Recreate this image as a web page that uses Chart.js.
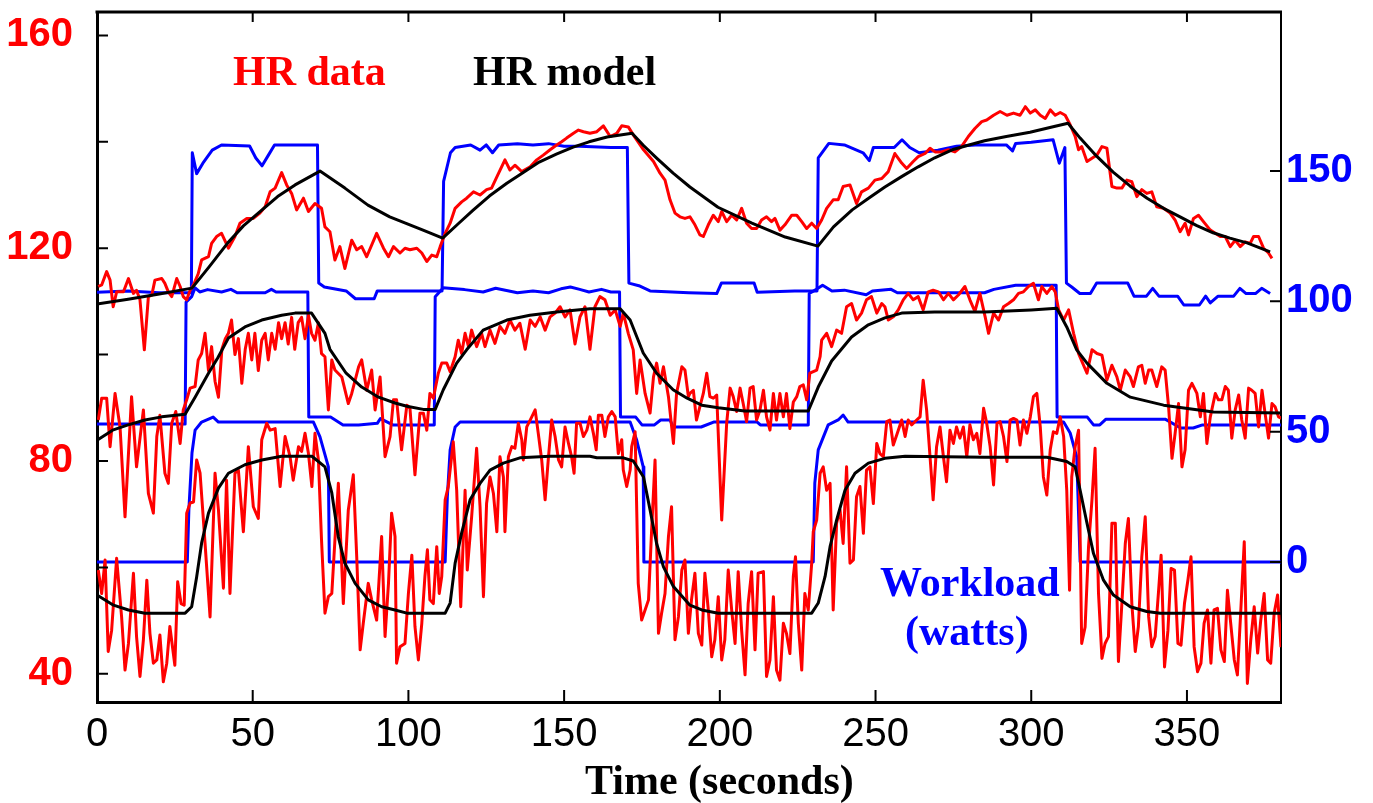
<!DOCTYPE html>
<html>
<head>
<meta charset="utf-8">
<title>HR data vs HR model</title>
<script src="https://cdn.jsdelivr.net/npm/chart.js@4.4.1/dist/chart.umd.min.js"></script>
<style>
  html, body { margin: 0; padding: 0; background: #fff; }
  #wrap { width: 1373px; height: 803px; }
</style>
</head>
<body>
<div id="wrap"><canvas id="hrChart" width="1373" height="803"></canvas></div>
<script>
// tick values
const timeTicks = [0, 50, 100, 150, 200, 250, 300, 350];
const hrTicks = [40, 60, 80, 100, 120, 140, 160];
const hrLabelled = [40, 80, 120, 160];
const wattTicks = [0, 50, 100, 150];

// [time (s), bpm] - top, middle and bottom runs
const hrDataTop = [[0.4,112.8],[1.5,113.1],[3.1,115.6],[4.2,114],[5.2,109],[6.3,111.8],[7.4,111.8],[8.5,111.8],[10.1,114.3],[11.7,111.5],[12.7,112.1],[13.8,110.3],[15.2,100.9],[16.5,110.9],[17.6,111.2],[18.6,114],[20.8,114.3],[21.8,113.4],[22.9,111.8],[24.0,110.9],[25.6,114.3],[26.7,112.8],[27.7,110.9],[28.8,110.3],[29.9,112.1],[31.0,113.1],[32.5,115.2],[33.6,117.8],[35.8,118.4],[36.8,120.9],[38.4,122.2],[40.0,122.8],[42.2,120],[44.3,122.2],[45.9,124.7],[48.1,125.6],[50.2,125.6],[52.3,126.6],[54.0,127.8],[55.6,130.6],[57.2,131.3],[59.3,134.2],[60.9,131.9],[62.5,130.3],[64.1,127.2],[66.3,129.4],[67.9,126.9],[70.0,128.4],[72.1,127.5],[73.2,124],[74.8,123.1],[76.4,117.8],[78.0,120.3],[79.6,116.2],[81.8,121.5],[83.4,119.7],[85.0,120.3],[86.6,118.4],[89.8,122.8],[92.0,120],[93.6,118.4],[95.2,120.3],[97.3,119.1],[98.9,120],[100.5,119.7],[102.7,120],[104.3,119.1],[105.9,117.5],[107.5,118.7],[109.1,118.4],[110.2,120.3],[111.8,122.8],[113.4,124.7],[115.0,127.5],[117.1,128.7],[118.7,129.4],[120.9,130.6],[123.0,130],[125.1,131],[126.7,131.3],[128.4,133.4],[131.0,136.6],[132.6,134.7],[134.2,135.6],[136.4,134.4],[139.1,135.3],[141.2,136.6],[143.3,137.5],[145.5,138.5],[147.6,139.4],[149.2,140],[150.8,140.7],[153.0,141.6],[154.6,142.2],[156.2,141.9],[158.3,141.6],[160.5,141.9],[162.6,143],[164.8,141],[166.9,141.6],[168.5,143],[170.6,142.8],[172.2,141.3],[175.5,138.5],[178.7,136.3],[180.8,134.1],[182.4,132.8],[184.0,129.1],[185.6,126.6],[187.2,125.9],[188.8,125.6],[190.4,125.9],[192.0,124.4],[193.6,122.5],[194.7,122.2],[196.3,124.4],[197.9,126.2],[199.5,125],[200.6,126.9],[202.2,125],[203.8,126.2],[205.4,125.3],[207.0,127.5],[208.6,124.7],[210.2,123.7],[211.8,123.7],[213.4,125.3],[215.0,125.9],[216.6,125],[217.7,125.6],[219.3,123.4],[220.9,124.4],[223.1,126.2],[224.7,126.2],[226.3,125],[227.9,123.7],[229.5,124.7],[231.1,123.7],[232.7,125.3],[234.3,127.5],[236.4,129.1],[238.0,129.1],[239.6,131.6],[241.8,131.9],[243.9,128.4],[245.5,130.6],[247.7,131.3],[249.8,132.8],[252.0,133.1],[254.1,134.4],[256.2,137.8],[258.4,136],[260.0,135],[262.1,136.3],[263.7,137.2],[265.9,137.8],[267.5,138.8],[269.1,138.1],[271.2,138.1],[273.4,138.5],[275.5,138.1],[277.6,139.1],[279.8,141],[281.9,142.5],[284.1,143.8],[285.7,144.1],[287.9,145],[290.0,145.7],[292.2,145],[294.3,145.4],[296.4,145],[298.1,146.6],[299.7,145.4],[301.3,146],[302.9,145],[304.5,144.4],[306.1,146],[307.7,145],[309.3,145.5],[310.9,145],[312.5,143.2],[314.1,141],[315.2,138.5],[316.2,139.1],[317.9,136.3],[319.5,136.9],[321.1,137.5],[322.7,139.1],[324.3,138.8],[325.9,131.6],[327.5,131.3],[329.1,131.3],[330.7,132.8],[332.3,132.5],[333.9,129.7],[335.5,131],[337.1,130.3],[338.7,130.6],[340.3,127.8],[342.5,127.5],[344.6,126.6],[346.2,125.3],[347.8,123.1],[349.4,124.7],[350.5,122.5],[352.1,125.6],[353.7,126.2],[355.3,125],[357.5,123.4],[359.1,122.8],[360.7,122.2],[362.3,122.2],[363.9,120.3],[365.5,121.5],[367.1,120.3],[368.7,121.2],[370.3,120.9],[371.4,122.2],[373.0,122.2],[374.6,120],[376.2,119.1],[377.3,118.1]];

const hrDataMid = [[0.4,87.7],[1.5,91.8],[3.1,91.8],[4.2,82.7],[5.8,92.7],[7.4,86.4],[9.0,69.5],[11.1,92.1],[12.7,78.9],[14.9,89.6],[16.5,73.9],[18.1,70.2],[19.2,84.6],[20.2,88.6],[21.8,77.7],[22.9,75.8],[24.0,87.1],[25.3,89.3],[26.7,83.3],[27.7,89.6],[28.8,91.5],[29.9,93.7],[31.5,94],[32.5,99],[33.6,100.2],[34.7,104],[35.8,97],[36.8,101.5],[37.9,95],[39.0,92],[40.1,101],[41.2,103],[42.2,104],[43.2,106.5],[44.3,100],[45.4,103],[46.5,94.6],[47.6,101],[48.6,104],[49.7,99],[50.7,104],[51.8,97],[52.9,102.7],[54.0,104],[55.0,99],[56.1,104],[57.2,101],[58.3,106],[59.3,103],[60.4,106],[61.4,102],[62.5,107],[63.5,101],[64.6,106],[65.7,107],[66.8,103],[67.9,107.4],[68.9,104],[70.0,102.7],[71.1,106],[72.1,100.2],[73.2,99.6],[74.3,89.6],[75.4,99],[76.4,97.1],[78.6,95.8],[80.7,90.8],[81.8,92.7],[84.0,97.7],[85.0,99],[86.6,93.3],[88.2,97.1],[89.3,89.6],[90.9,95.8],[92.5,80.8],[94.1,84.6],[95.2,91.5],[96.2,91.5],[97.8,82.1],[99.5,90.5],[100.5,89.9],[102.1,77.4],[103.7,89],[104.8,89],[105.9,85.8],[106.9,92.7],[108.0,91.8],[109.6,96.5],[110.7,98.4],[112.3,98.4],[113.4,96.8],[115.0,99.6],[116.0,102.7],[117.1,100.2],[118.2,104],[119.3,101.5],[120.3,104.6],[121.9,101.5],[123.5,104],[124.6,101.5],[126.2,104.6],[127.8,102.1],[129.4,105.3],[131.0,104],[132.6,106.5],[134.2,104.6],[135.8,105.9],[137.5,101],[139.1,106.5],[140.7,105.3],[142.3,107.1],[143.9,104.6],[145.5,107.1],[147.1,107.8],[148.7,109],[150.3,107.1],[151.9,108.4],[153.5,102],[155.1,107.1],[156.7,109],[158.3,101],[159.9,109],[161.5,110.9],[163.1,110.3],[164.8,107.4],[166.4,108.4],[168.0,105.3],[169.0,107.8],[170.6,104],[172.2,100.9],[173.3,92.7],[174.4,99],[176.0,92.7],[177.6,89],[178.7,95.8],[179.7,98.4],[180.8,94.6],[181.9,97.7],[183.5,92.1],[185.1,83.3],[186.1,92.7],[187.8,97.7],[188.8,97.1],[189.9,92.1],[190.4,92.7],[191.5,93.3],[192.5,87.7],[193.6,90.2],[194.7,92.7],[195.8,96.5],[196.8,92.1],[197.9,91.8],[199.0,92.4],[200.6,68.9],[202.2,87.1],[203.3,93.7],[204.3,92.1],[205.4,89.3],[206.5,93.7],[207.5,90.8],[208.6,87.4],[209.7,93.7],[210.7,94],[211.8,87.7],[212.9,89.6],[214.0,93.3],[215.0,88.3],[216.1,85.8],[217.2,92.7],[218.2,87.7],[219.3,92.7],[220.4,88.3],[221.4,92.7],[222.5,86.1],[223.6,91.1],[224.7,92.1],[225.7,94],[226.8,94.3],[227.9,91.5],[228.9,96.5],[230.0,96.8],[231.1,97.1],[232.2,99.6],[232.7,102.7],[234.3,104],[235.9,101.5],[237.5,104.6],[239.1,104],[240.7,109],[242.3,109.6],[243.9,106.5],[245.5,107.8],[247.1,110.3],[248.7,110.9],[250.4,107.8],[252.0,109.6],[253.0,109],[254.1,106.5],[255.7,107.1],[257.3,108.4],[258.9,110.3],[260.5,111.5],[262.1,110.3],[263.7,110.9],[265.3,108.4],[266.9,111.8],[268.5,112.1],[270.2,111.8],[271.8,110.3],[273.4,111.5],[275.0,110.3],[276.6,111.2],[278.7,112.8],[280.3,110.3],[281.9,108.1],[283.5,111.5],[285.2,107.1],[286.3,104],[287.9,107.8],[289.5,106.5],[291.1,109],[292.7,109.6],[294.3,110.3],[295.9,111.5],[297.5,111.8],[299.1,112.8],[300.7,113.4],[302.3,110.3],[303.4,112.8],[305.0,111.5],[306.6,112.8],[307.7,111.8],[308.8,108.4],[310.4,106.5],[312.0,108.4],[313.6,104],[315.2,100.2],[317.9,96.5],[319.5,100.9],[321.1,100.2],[322.7,99.9],[324.3,95.2],[325.9,98],[327.5,95.8],[328.6,93.3],[330.2,97.1],[331.8,95.8],[332.8,94],[334.4,97.7],[335.5,98],[336.6,94.6],[337.7,97.1],[338.7,97.1],[340.3,94],[341.9,97.7],[343.0,97.1],[344.1,90.2],[345.2,80.5],[346.2,85.2],[347.3,90.8],[348.4,78.9],[349.4,82.1],[350.5,93.3],[351.6,94.6],[353.2,92.7],[354.3,88.3],[355.3,92.7],[356.4,83.3],[357.5,88.3],[359.1,92.7],[360.1,91.5],[361.2,91.5],[362.3,94],[363.3,93.3],[364.4,84.3],[365.5,89.6],[366.6,92.4],[367.6,87.7],[368.7,84.3],[369.8,93.7],[370.8,93.3],[371.9,92.7],[373.0,86.4],[374.1,93.3],[375.1,88.9],[376.2,84.3],[377.3,90.8],[378.3,90.2],[379.4,88.3],[380.5,88]];

const hrDataLow = [[0.4,59.5],[1.5,55.1],[2.6,61.4],[3.6,44.2],[4.7,48.2],[6.3,61.7],[7.9,50.7],[9.0,40.7],[10.1,45.7],[11.7,58.9],[12.7,47],[13.8,39.5],[14.9,46.4],[16.0,57.6],[17.0,47.6],[18.1,42],[19.2,42.6],[20.2,47.3],[21.3,38.5],[22.4,42],[23.4,48.9],[25.0,41.6],[25.9,57.3],[27.0,53.2],[28.0,52.9],[28.8,70.2],[29.9,72.1],[31.0,72.3],[32.0,80.2],[33.1,77.7],[34.7,64.5],[36.3,50.7],[37.9,77.7],[39.0,70.8],[40.6,56.1],[41.6,76.4],[42.7,55.1],[44.3,77.7],[45.4,78.3],[47.0,66.7],[48.6,82.7],[50.2,71.4],[51.8,69.2],[52.9,84],[54.5,87.1],[55.6,85.8],[57.2,86.1],[58.8,75.2],[60.4,84.6],[62.0,80.8],[63.0,76.4],[64.7,82.7],[65.7,81.8],[66.8,85.2],[67.9,81.4],[69.0,75.2],[70.0,85.2],[71.1,80.2],[72.1,65.1],[73.2,51.4],[74.3,54.5],[75.4,55.1],[76.4,65.1],[77.5,75.8],[79.1,53.2],[80.7,70.8],[82.3,77.4],[83.4,62],[84.5,44.5],[85.5,49.5],[87.1,57],[88.2,53.9],[89.8,50.1],[91.4,65.8],[92.5,47],[93.6,57],[94.6,70.2],[95.7,65.8],[96.2,42],[97.3,45.1],[98.9,45.7],[100.0,55.1],[101.1,62.3],[102.1,48.9],[103.2,42.6],[104.3,49.5],[105.3,58.3],[106.1,63.3],[106.9,53.9],[108.0,53.2],[109.1,63.9],[109.9,55.1],[110.7,58.3],[111.8,72.7],[112.8,75.2],[114.4,83.6],[115.5,74.5],[116.8,52.6],[118.2,74.5],[118.9,59.5],[120.3,69.5],[121.9,82.4],[123.0,71.4],[124.1,54.5],[125.1,72],[126.2,77],[127.3,73.9],[128.4,66.7],[129.4,80.8],[130.5,77],[131.0,66.7],[132.1,80.8],[133.2,82.7],[134.2,82.4],[135.3,87.1],[136.4,84],[136.9,80.2],[138.0,86.4],[139.1,87.7],[140.7,89.6],[141.7,85.2],[142.8,80.2],[143.9,72.7],[144.9,80.2],[146.0,87.7],[147.1,84.6],[148.2,80.2],[149.2,78.9],[150.3,86.4],[151.4,83.3],[152.4,80.8],[153.2,77.7],[154.0,87.1],[155.1,87.1],[156.2,84.6],[157.3,85.8],[158.3,88.3],[159.4,85.2],[160.3,82.1],[161.0,88.6],[162.1,88.6],[163.1,84.6],[164.2,88.3],[165.3,89.3],[166.4,88.3],[167.4,81.4],[168.5,84],[169.0,78.3],[170.1,75.2],[171.2,78.3],[171.7,82.7],[172.8,85.5],[173.8,57],[174.9,50.1],[176.0,52],[177.1,53.9],[178.1,67],[179.2,80.2],[180.3,47.6],[181.3,51.4],[182.4,55.1],[183.5,65.8],[184.5,71.4],[185.6,46.4],[186.7,50.7],[187.8,59.5],[188.8,61.4],[189.9,47.6],[190.9,53.9],[192.0,58.9],[193.1,47.6],[194.2,45.4],[195.2,58.9],[196.3,52],[197.4,43.2],[198.4,46.4],[199.5,54.5],[200.6,42.6],[201.6,46.4],[202.7,59.5],[203.8,52],[204.9,45.7],[205.9,59.2],[207.0,48.2],[208.1,39.8],[209.1,53.2],[210.2,59.2],[211.3,44.5],[212.3,58.9],[214.0,59.2],[215.0,39.5],[216.1,42.6],[217.2,54.5],[218.2,40.7],[219.3,38.8],[220.4,49.5],[221.4,47.6],[222.5,43.8],[223.6,58.3],[224.3,62],[225.2,49.5],[226.3,40.7],[227.3,55.1],[228.4,52],[229.5,60.8],[230.0,66.7],[231.1,68.9],[232.2,77.7],[233.2,78.9],[234.3,74.5],[235.4,75.8],[236.4,52],[237.5,68.3],[238.6,70.8],[239.6,64.5],[240.7,78.9],[241.8,60.8],[242.9,61.4],[243.9,73.3],[245.0,75.2],[246.1,66.4],[247.1,78.3],[248.2,78.9],[249.3,72],[250.4,83.3],[251.4,81.4],[252.5,80.8],[253.6,87.4],[254.6,87.7],[255.7,83],[256.8,84.9],[258.4,87.7],[259.5,84.6],[260.5,87.7],[261.6,86.8],[263.2,87.7],[264.3,88.3],[265.3,95.2],[266.4,89.6],[267.5,80.8],[268.5,72.7],[269.6,82.7],[270.7,86.4],[271.8,80.8],[272.8,76.1],[273.9,85.8],[275.0,83.3],[276.0,86.4],[277.1,84.3],[278.2,86.4],[279.3,80.8],[280.3,86.8],[281.4,84],[282.5,85.2],[283.5,81.4],[284.7,89.9],[285.7,87.1],[286.8,82.7],[287.9,75.5],[289.0,87.1],[290.0,87.4],[291.1,84.6],[292.2,79.9],[293.2,87.7],[294.3,88],[295.4,87.7],[296.4,83],[297.5,87.7],[298.6,85.2],[299.7,88.3],[300.7,92.1],[301.8,92.7],[302.9,86.4],[303.9,77],[305.0,73.6],[306.1,82.1],[307.1,85.5],[308.2,85.2],[309.3,88.3],[310.4,84.6],[311.4,74.5],[312.3,55.7],[313.0,77],[314.1,82.7],[315.2,85.8],[316.2,45.7],[317.3,48.8],[318.4,63.9],[319.5,72.7],[320.5,82.4],[321.6,55.1],[322.7,42.9],[323.7,45.7],[324.8,47],[325.9,68.3],[327.0,68.3],[328.0,42.3],[329.1,53.2],[330.2,64.5],[331.2,69.2],[332.3,53.2],[333.4,44.2],[334.4,48.9],[335.5,62],[336.6,69.5],[337.7,50.7],[338.7,45.1],[339.8,47],[340.9,55.7],[341.7,62.3],[342.8,41.3],[343.9,48.2],[344.9,59.8],[346.0,59.5],[347.1,45.7],[348.1,45.4],[349.2,53.2],[350.3,57.6],[351.3,62],[352.3,45.1],[353.4,40.4],[354.5,42],[355.5,49.5],[356.6,52],[357.7,42],[358.7,52],[359.8,52.3],[360.9,44.5],[362.0,42.3],[363.0,55.7],[364.1,49.2],[365.2,42.6],[366.2,39.8],[367.3,52],[368.4,64.8],[369.4,38.2],[370.5,46.4],[371.6,52.6],[372.7,43.9],[373.7,50.1],[374.8,55.1],[375.9,42.6],[376.9,42],[378.0,51.4],[379.1,54.8],[380.2,45]];

// HR model [time (s), bpm]
const hrModelTop = [[0,109.5],[10,110.4],[20,111.4],[30.5,112.5],[36,116.5],[42,121],[47,124.2],[53,127.2],[58,129.7],[63.6,131.9],[71.6,134.5],[79.6,131.3],[87,128.1],[94,125.9],[104.7,123.4],[111,121.9],[116,124.6],[120.7,127.1],[126,129.8],[131.6,132.2],[137,134.3],[142,136.2],[147.5,137.7],[152.9,139],[158,140],[163.8,140.9],[171.8,141.6],[175.5,139.3],[179.8,136.9],[185,134.1],[190.4,131.5],[199.4,127.7],[210.3,124.7],[221,122.1],[231.5,120.4],[236.5,124],[242.5,127.2],[248,129.5],[253,131.5],[258.5,133.5],[263.7,135.3],[269,137],[274.6,138.5],[280,139.4],[285,140.2],[292,141],[299.6,141.8],[306,142.7],[311.8,143.5],[315.7,140.7],[321,137.3],[326.3,134.3],[331.7,131.7],[337.2,129.4],[342.5,127.5],[347.8,125.9],[353,124.3],[358.4,122.9],[363.8,121.9],[369.3,121],[376.7,119.3]];

const hrModelMid = [[0,83.9],[5,85.8],[10,86.8],[15.4,87.7],[20.8,88.3],[28.3,88.8],[31.5,92],[35.8,96.5],[38.8,99.4],[42.2,103.1],[47.5,105.2],[52.9,106.5],[59.3,107.4],[63.6,107.8],[68.9,107.8],[73.2,104],[74.8,101],[80,96.5],[85,93.9],[90.4,92],[95.7,90.9],[99.5,90.3],[104.8,89.7],[108.6,89.7],[111.2,93.4],[115.5,98.4],[118.7,100.9],[124,104.6],[131.6,106.5],[139,107.4],[147.6,108],[158.3,108.6],[168,108.6],[171.2,106.5],[175.4,100.3],[179.7,96.5],[185,93.4],[189.5,91.8],[194.2,90.5],[199.5,90],[208,89.4],[228.4,89.4],[231.6,93.9],[235.9,98.8],[242.3,103.3],[247.7,105.6],[253,106.9],[258.4,107.8],[269,108],[285,108],[300,108.4],[308.2,108.7],[311.4,105.2],[314.6,100.9],[317.9,98.4],[324.3,94.6],[331.8,92],[342.5,90.5],[358.5,89.2],[380.5,89]];

const hrModelLow = [[0,54.8],[5.3,52.9],[10.1,52],[15.4,51.4],[28.3,51.4],[30.4,52.6],[32,58.2],[33.6,64.6],[35.8,70.2],[39,74.9],[42.2,77.7],[47.5,79.3],[52.9,80.2],[59.3,80.9],[69,80.9],[73.2,78.9],[75.4,74],[77.5,65.7],[79.6,60.8],[82.9,57],[87.1,53.9],[91.4,52.6],[95.7,52],[99.5,51.4],[111.8,51.4],[113.4,53.3],[115,60.8],[117.1,66.5],[119.8,72.7],[123,75.8],[126.2,78.3],[130.5,79.6],[135.8,80.6],[145.5,80.9],[158.3,80.9],[160.5,80.6],[169,80.6],[172.2,80],[175.5,77],[177.6,70.8],[179.7,64.5],[181.9,60.1],[185.1,56.4],[190.4,52.9],[194.2,52],[199.5,51.4],[229.5,51.4],[231.6,53.3],[233.8,58.3],[235.4,63.9],[237.5,68.9],[240.2,74.5],[243.4,77.7],[247.7,79.6],[253,80.5],[259.5,80.9],[285,80.7],[305,80.7],[311.4,79.9],[314.1,78.9],[315.7,74.5],[317.9,68.3],[320,62.6],[323.2,57.6],[326.4,54.8],[331.8,52.6],[337.1,51.7],[341.4,51.4],[380.5,51.4]];

// workload [time (s), watts] on the right axis
const workLow = [[0,0],[29,0],[29.5,20],[30.5,41.8],[31.5,50.6],[33.6,53.7],[37.3,55.6],[39,53.7],[69.5,53.7],[71.6,48],[74.3,36.5],[74.6,0],[111.8,0],[112.5,25],[113.4,43],[115,51.8],[116.6,53.7],[171.2,53.7],[173.3,46.8],[175.4,36.5],[175.6,0],[230,0],[230.5,30.3],[231.6,43],[234.8,52.6],[238,54.5],[239.6,56.4],[241.2,53.7],[310.4,53.7],[312.5,49.5],[314.6,40.3],[315.7,0],[380.5,0]];

const workMid = [[0,52.9],[28.3,52.9],[28.6,99.7],[30.4,101.8],[31.5,105.2],[33,103.6],[35.5,104.5],[40,103.6],[43,104.6],[45,103.3],[54,103.3],[56,104.6],[57.5,103.6],[67.7,103.6],[68,55.6],[75,55.6],[79,52.6],[84,52.6],[90,53.2],[91,55],[95,52.6],[108.3,52.6],[108.6,101.8],[111.2,105.2],[113,105],[118,104.5],[124,103.6],[128,105],[135,103.3],[140,104],[145,103.3],[149,104.8],[152,105.5],[155,104.6],[158,103.6],[162,104.6],[165,103.6],[167.8,103.6],[168.1,55.6],[173,55.6],[175,52.6],[179,52.6],[181,54.5],[184,54.5],[185,51.8],[194,51.8],[198,53.7],[212,53.7],[213,52.6],[228.4,52.6],[228.7,103],[231,104.6],[233,106.2],[236,104],[240,104.3],[247,102.5],[249,104],[255,104.6],[257,103.3],[285,103.3],[288,104.6],[295,106.2],[308,106.2],[308.3,55.6],[318,55.6],[320,52.6],[322,52.6],[324,54.8],[343,54.8],[348,51.4],[352,51.4],[355,52.6],[380.5,52.6]];

const workTop = [[0,103.5],[10,104],[20,103.3],[30.3,103.3],[30.6,157],[32,149],[34,153],[37,158],[40,160],[49,159.6],[51,155],[53,152],[55,156],[57,160],[70.8,160],[71.2,107],[73,105.5],[80,104],[83,101],[89,101],[90,104],[110.8,104],[111.3,146],[113.5,157],[115,159],[120,160],[123,158],[125,160],[127,157],[129,160],[135,160.5],[140,160],[145,160.5],[150,159.5],[155,159.5],[165,159],[170.3,159],[170.8,107],[174,106],[177.6,104],[190,103.3],[199,103],[200.5,107],[211,107],[212,103.5],[224,104],[231.2,104],[231.6,155],[235,160.6],[240,160],[246,157],[248,154],[249.3,159],[256,159],[258.5,162],[261,159],[264,157],[270,158],[276,159.5],[282,160],[292,160],[294,157.7],[295,160.6],[300,161],[307,162],[309,153],[310.8,159],[311.3,107],[313,105.5],[315.6,103],[319,103],[321,107],[331,107],[333,102],[337,102],[339,105],[341,102],[347,102],[349,98.6],[354,98.6],[356,102],[357.5,99.4],[360,102],[365,102],[367,105],[369,103],[372,103],[374,105],[376.7,103]];

const RED = '#ff0000';
const BLUE = '#0000ff';
const BLACK = '#000000';

function toXY(pts) {
  return pts.map(([t, v]) => ({ x: t, y: v }));
}

function series(label, pts, color, axis, order) {
  return {
    label,
    data: toXY(pts),
    borderColor: color,
    backgroundColor: color,
    borderWidth: 3,
    pointRadius: 0,
    tension: 0,
    borderJoinStyle: 'round',
    yAxisID: axis,
    order
  };
}

// frame, inward ticks and the free text
const framePlugin = {
  id: 'frame',
  afterDatasetsDraw(chart) {
    const { ctx, chartArea: a, scales } = chart;
    ctx.save();
    ctx.strokeStyle = BLACK;
    ctx.lineWidth = 3;
    ctx.beginPath();
    ctx.moveTo(a.left - 1.5, a.top);
    ctx.lineTo(a.right + 1, a.top);
    ctx.stroke();
    ctx.lineWidth = 2;
    ctx.beginPath();
    hrTicks.forEach(v => {
      const y = scales.yHR.getPixelForValue(v);
      ctx.moveTo(a.left, y); ctx.lineTo(a.left + 11, y);
    });
    wattTicks.forEach(v => {
      const y = scales.yW.getPixelForValue(v);
      ctx.moveTo(a.right - 11, y); ctx.lineTo(a.right, y);
    });
    timeTicks.forEach(v => {
      const x = scales.x.getPixelForValue(v);
      ctx.moveTo(x, a.bottom); ctx.lineTo(x, a.bottom - 12);
      if (v > 0) { ctx.moveTo(x, a.top); ctx.lineTo(x, a.top + 10); }
    });
    ctx.stroke();
    ctx.restore();
  },
  afterDraw(chart) {
    const ctx = chart.ctx;
    ctx.save();
    ctx.font = 'bold 42px "Liberation Serif", "Times New Roman", serif';
    ctx.textBaseline = 'alphabetic';
    ctx.textAlign = 'left';
    ctx.fillStyle = RED;
    ctx.fillText('HR data', 233, 85);
    ctx.fillStyle = BLACK;
    ctx.fillText('HR model', 473, 85);
    ctx.fillText('Time (seconds)', 585, 794);
    ctx.fillStyle = BLUE;
    ctx.fillText('Workload', 880, 596);
    ctx.fillText('(watts)', 905, 645);
    ctx.restore();
  }
};

new Chart(document.getElementById('hrChart'), {
  type: 'line',
  data: {
    datasets: [
      series('HR model', hrModelTop, BLACK, 'yHR', 1),
      series('HR model', hrModelMid, BLACK, 'yHR', 1),
      series('HR model', hrModelLow, BLACK, 'yHR', 1),
      series('HR data', hrDataTop, RED, 'yHR', 2),
      series('HR data', hrDataMid, RED, 'yHR', 2),
      series('HR data', hrDataLow, RED, 'yHR', 2),
      series('Workload', workTop, BLUE, 'yW', 3),
      series('Workload', workMid, BLUE, 'yW', 3),
      series('Workload', workLow, BLUE, 'yW', 3)
    ]
  },
  options: {
    responsive: false,
    animation: false,
    devicePixelRatio: 1,
    layout: { padding: { top: 12, left: 0, right: 0, bottom: 0 } },
    plugins: { legend: { display: false }, tooltip: { enabled: false } },
    scales: {
      x: {
        type: 'linear',
        position: 'bottom',
        min: 0,
        max: 380.2,
        afterBuildTicks: s => { s.ticks = timeTicks.map(v => ({ value: v })); },
        afterFit: s => { s.height = 101; s.paddingLeft = 0; s.paddingRight = 0; },
        grid: { display: false, drawTicks: false },
        border: { display: true, color: BLACK, width: 3 },
        ticks: {
          autoSkip: false,
          maxRotation: 0,
          padding: 9,
          color: BLACK,
          font: { family: 'Liberation Sans', size: 40 }
        }
      },
      yHR: {
        type: 'linear',
        position: 'left',
        min: 34.7,
        max: 164.4,
        afterBuildTicks: s => { s.ticks = hrTicks.map(v => ({ value: v })); },
        afterFit: s => { s.width = 97; s.paddingTop = 0; s.paddingBottom = 0; },
        grid: { display: false, drawTicks: false },
        border: { display: true, color: BLACK, width: 3 },
        ticks: {
          padding: 24,
          color: RED,
          font: { family: 'Liberation Sans', size: 40, weight: 'bold' },
          callback: v => hrLabelled.includes(v) ? String(v) : ''
        }
      },
      yW: {
        type: 'linear',
        position: 'right',
        min: -53.7,
        max: 211,
        afterBuildTicks: s => { s.ticks = wattTicks.map(v => ({ value: v })); },
        afterFit: s => { s.width = 92; s.paddingTop = 0; s.paddingBottom = 0; },
        grid: { display: false, drawTicks: false },
        border: { display: true, color: BLACK, width: 2 },
        ticks: {
          padding: 5,
          color: BLUE,
          font: { family: 'Liberation Sans', size: 40, weight: 'bold' }
        }
      }
    }
  },
  plugins: [framePlugin]
});
</script>
</body>
</html>
